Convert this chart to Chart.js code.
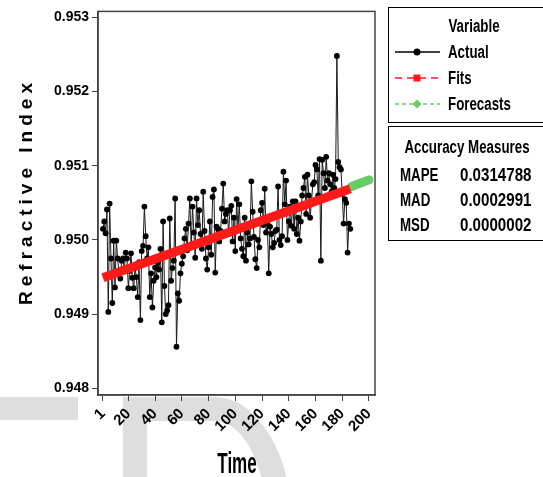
<!DOCTYPE html>
<html>
<head>
<meta charset="utf-8">
<script src="https://cdn.jsdelivr.net/npm/chart.js@4.4.1/dist/chart.umd.min.js"></script>
<style>
  html, body { margin: 0; padding: 0; background: #fff; }
  canvas { display: block; }
</style>
</head>
<body>
<canvas id="myChart" width="543" height="477"></canvas>
<script>
// Refractive index, actual observations (time 1..186)
var actualValues = [
  0.95015, 0.95025, 0.95009, 0.95041, 0.94903, 0.95049, 0.94975, 0.94915, 0.94999, 0.94936,
  0.94999, 0.94975, 0.94955, 0.94948, 0.94972, 0.94975, 0.94960, 0.94983, 0.94975, 0.94935,
  0.94958, 0.94982, 0.94949, 0.94935, 0.94962, 0.94950, 0.94923, 0.94970, 0.94892, 0.94985,
  0.94992, 0.95045, 0.95005, 0.94975, 0.94990, 0.94923, 0.94955, 0.94909, 0.94945, 0.94963,
  0.94950, 0.94970, 0.94960, 0.94988, 0.94889, 0.95025, 0.94938, 0.94900, 0.94905, 0.94912,
  0.95029, 0.94945, 0.94962, 0.94972, 0.95056, 0.94856, 0.94928, 0.94918, 0.94955, 0.94968,
  0.94978, 0.95002, 0.95015, 0.94986, 0.95022, 0.95056, 0.94990, 0.95045, 0.95010, 0.94976,
  0.95056, 0.95020, 0.95040, 0.95008, 0.94988, 0.95065, 0.95012, 0.94975, 0.94960, 0.94990,
  0.95025, 0.94980, 0.95058, 0.95068, 0.94956, 0.95018, 0.95015, 0.94998, 0.95012, 0.95042,
  0.95076, 0.95025, 0.95035, 0.95040, 0.95008, 0.95040, 0.95046, 0.94998, 0.95030, 0.94985,
  0.95055, 0.95015, 0.95048, 0.95002, 0.94988, 0.94978, 0.95030, 0.94972, 0.95010, 0.94994,
  0.95002, 0.95079, 0.95038, 0.95004, 0.94974, 0.94962, 0.95000, 0.94990, 0.95040, 0.95050,
  0.95020, 0.95069, 0.95010, 0.95022, 0.94955, 0.95018, 0.95008, 0.94990, 0.94996, 0.95012,
  0.95014, 0.95072, 0.95000, 0.94993, 0.95005, 0.95092, 0.95048, 0.95080, 0.95000, 0.95025,
  0.95045, 0.95019, 0.95052, 0.95015, 0.95052, 0.95008, 0.95030, 0.94999, 0.95025, 0.95060,
  0.95070, 0.95085, 0.95035, 0.95088, 0.95060, 0.95030, 0.95052, 0.95075, 0.95078, 0.95101,
  0.95095, 0.95060, 0.95109, 0.94972, 0.95108, 0.95090, 0.95070, 0.95112, 0.95080, 0.95090,
  0.95075, 0.95065, 0.95088, 0.95070, 0.95082, 0.95248,
  0.95105, 0.95098, 0.95095, 0.95062, 0.95022, 0.95055, 0.95050, 0.94983, 0.95022, 0.95015
];
// trend fit and forecast (end points)
var fitTimes = [1, 186];
var fitValues = [0.94949, 0.95069];
var forecastTimes = [187, 200];
var forecastValues = [0.95072, 0.95081];

var xTickLabels = [1, 20, 40, 60, 80, 100, 120, 140, 160, 180, 200];
var yTickValues = [0.948, 0.949, 0.950, 0.951, 0.952, 0.953];

var legendTitle = "Variable";
var legendNames = ["Actual", "Fits", "Forecasts"];
var accuracyTitle = "Accuracy Measures";
var accuracyLabels = ["MAPE", "MAD", "MSD"];
var accuracyValues = ["0.0314788", "0.0002991", "0.0000002"];

var sans = "'Liberation Sans', Arial, sans-serif";
var redColor = "#ff1a1a";
var greenColor = "#66cc66";

function toPoints(xs, ys) {
  return ys.map(function(v, i) { return { x: xs[i], y: v }; });
}

var actualPoints = actualValues.map(function(v, i) { return { x: i + 1, y: v }; });

// squeezed bold text, close to the narrow face of the original
function narrowText(c, text, x, y, size, align, sx, sy) {
  c.save();
  c.translate(x, y);
  c.scale(sx || 0.74, sy || 1);
  c.font = "bold " + size + "px " + sans;
  c.textAlign = align;
  c.textBaseline = "alphabetic";
  c.fillText(text, 0, 0);
  c.restore();
}

// grey watermark shapes behind the x labels
var watermark = {
  id: "watermark",
  beforeDraw: function(chart) {
    var c = chart.ctx;
    c.save();
    c.fillStyle = "#dedede";
    c.fillRect(0, 397, 78, 23);
    c.fillRect(123, 397, 24, 80);
    c.beginPath();
    c.moveTo(147, 397);
    c.lineTo(215, 397);
    c.ellipse(215, 530, 78, 133, 0, -Math.PI / 2, 0, false);
    c.ellipse(215, 530, 53, 109, 0, 0, -Math.PI / 2, true);
    c.lineTo(147, 421);
    c.closePath();
    c.fill();
    c.restore();
  }
};

var decorations = {
  id: "decorations",
  afterDraw: function(chart) {
    var c = chart.ctx;
    var a = chart.chartArea;
    c.save();
    // plot frame
    c.strokeStyle = "#444";
    c.lineWidth = 1.5;
    c.strokeRect(a.left, a.top, a.right - a.left, a.bottom - a.top);

    // y title with spread letters
    var yTitle = "Refractive Index";
    c.fillStyle = "#000";
    c.font = "bold 19px " + sans;
    c.letterSpacing = "0px";
    var w0 = c.measureText(yTitle).width;
    var sp = (222 - w0) / (yTitle.length - 1);
    c.save();
    c.translate(27, 194);
    c.rotate(-Math.PI / 2);
    c.letterSpacing = sp + "px";
    c.textAlign = "left";
    c.textBaseline = "middle";
    c.fillText(yTitle, -111, 0);
    c.restore();
    c.letterSpacing = "0px";

    // x title
    narrowText(c, "Time", 237, 473, 23, "center", 0.74, 1.25);

    // legend box
    c.strokeStyle = "#000";
    c.lineWidth = 1;
    c.strokeRect(388.5, 7.5, 160, 115);
    narrowText(c, legendTitle, 474, 32, 18, "center");
    var rowY = [52, 78, 104];
    var styles = [
      { color: "#000", dash: [], marker: "circle" },
      { color: redColor, dash: [7, 5], marker: "square" },
      { color: greenColor, dash: [4, 3], marker: "diamond" }
    ];
    legendNames.forEach(function(name, i) {
      var y = rowY[i];
      var s = styles[i];
      c.strokeStyle = s.color;
      c.fillStyle = s.color;
      c.lineWidth = 1.3;
      c.setLineDash(s.dash);
      c.beginPath();
      c.moveTo(395, y);
      c.lineTo(440, y);
      c.stroke();
      c.setLineDash([]);
      c.beginPath();
      if (s.marker === "circle") {
        c.arc(417, y, 3.5, 0, Math.PI * 2);
      } else if (s.marker === "square") {
        c.rect(413.5, y - 3.5, 7, 7);
      } else {
        c.moveTo(417, y - 4.5);
        c.lineTo(421.5, y);
        c.lineTo(417, y + 4.5);
        c.lineTo(412.5, y);
        c.closePath();
      }
      c.fill();
      c.fillStyle = "#000";
      narrowText(c, name, 448, y + 6, 18, "left");
    });

    // accuracy box
    c.strokeStyle = "#000";
    c.lineWidth = 1;
    c.strokeRect(388.5, 126.5, 160, 114);
    c.fillStyle = "#000";
    narrowText(c, accuracyTitle, 467, 153, 18, "center");
    var accY = [181, 206, 231];
    accuracyLabels.forEach(function(lab, i) {
      narrowText(c, lab, 400, accY[i], 18, "left");
      narrowText(c, accuracyValues[i], 460, accY[i], 18, "left", 0.84);
    });
    c.restore();
  }
};

var ctx = document.getElementById("myChart").getContext("2d");
var myChart = new Chart(ctx, {
  type: "line",
  data: {
    datasets: [
      {
        label: legendNames[0],
        data: actualPoints,
        borderColor: "#1a1a1a",
        borderWidth: 1,
        pointRadius: 2.9,
        pointBackgroundColor: "#000",
        pointBorderColor: "#000",
        pointBorderWidth: 0,
        tension: 0,
        order: 3
      },
      {
        label: legendNames[1],
        data: toPoints(fitTimes, fitValues),
        borderColor: redColor,
        borderWidth: 9,
        borderCapStyle: "butt",
        pointRadius: 0,
        order: 1
      },
      {
        label: legendNames[2],
        data: toPoints(forecastTimes, forecastValues),
        borderColor: greenColor,
        borderWidth: 9,
        borderCapStyle: "round",
        pointRadius: 0,
        order: 2
      }
    ]
  },
  options: {
    responsive: false,
    animation: false,
    events: [],
    layout: { padding: { left: 0, right: 168, top: 7, bottom: 0 } },
    plugins: {
      legend: { display: false },
      title: { display: false },
      tooltip: { enabled: false }
    },
    scales: {
      x: {
        type: "linear",
        min: -2.7,
        max: 204.5,
        afterBuildTicks: function(scale) {
          scale.ticks = xTickLabels.map(function(v) { return { value: v }; });
        },
        afterFit: function(scale) { scale.height = 82; },
        ticks: {
          autoSkip: false,
          minRotation: 45,
          maxRotation: 45,
          padding: 4,
          color: "#000",
          font: { family: sans, size: 15, weight: "bold" },
          callback: function(v) { return String(v); }
        },
        grid: { drawOnChartArea: false, tickLength: 6, color: "#444" },
        border: { color: "#444", width: 1.5 }
      },
      y: {
        type: "linear",
        min: 0.94791,
        max: 0.95308,
        afterBuildTicks: function(scale) {
          scale.ticks = yTickValues.map(function(v) { return { value: v }; });
        },
        afterFit: function(scale) { scale.width = 98; },
        ticks: {
          padding: 3,
          color: "#000",
          font: { family: sans, size: 14, weight: "bold" },
          callback: function(v) { return v.toFixed(3); }
        },
        grid: { drawOnChartArea: false, tickLength: 6, color: "#444" },
        border: { color: "#444", width: 1.5 }
      }
    }
  },
  plugins: [watermark, decorations]
});
</script>
</body>
</html>
